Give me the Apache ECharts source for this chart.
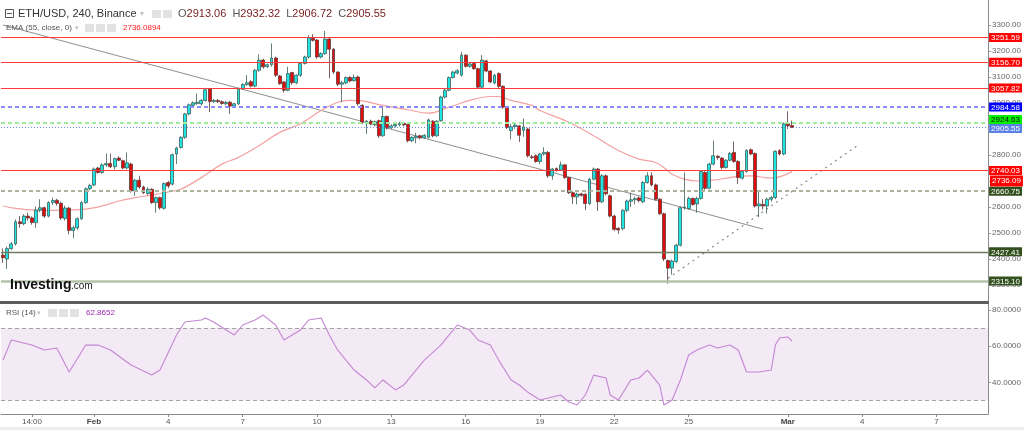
<!DOCTYPE html>
<html><head><meta charset="utf-8">
<script src="https://cdn.jsdelivr.net/npm/echarts@6/dist/echarts.min.js"></script>
<style>html,body{margin:0;padding:0;background:#fff}#c{width:1024px;height:430px}</style>
</head><body><div id="c"></div>
<script>
// ---------- DATA ----------
const barOpen = [2415,2400,2440,2458,2543,2536,2565,2558,2540,2588,2597,2565,2617,2626,2614,2556,2596,2510,2520,2555,
2617,2670,2685,2750,2733,2762,2767,2755,2788,2778,2750,2765,2662,2703,2677,2652,2668,2617,2636,2595,
2694,2688,2804,2829,2868,2958,2991,2998,2997,3010,3055,3006,3010,3005,2997,3003,2988,2997,3055,3071,
3082,3065,3126,3165,3140,3147,3173,3104,3081,3049,3117,3078,3107,3152,3177,3249,3242,3177,3190,3246,
3207,3119,3072,3077,3098,3086,3100,2991,2920,2930,2918,2932,2874,2948,2905,2912,2916,2922,2918,2855,
2866,2874,2866,2868,2930,2874,2932,3023,3049,3098,3115,3107,3184,3141,3152,3132,3061,3162,3123,3077,
3113,3064,2984,2894,2909,2912,2895,2900,2793,2797,2775,2804,2810,2720,2748,2742,2762,2713,2655,2639,
2650,2649,2613,2707,2746,2620,2720,2643,2565,2518,2517,2587,2622,2628,2635,2620,2694,2720,2685,2630,
2574,2394,2365,2390,2453,2597,2594,2633,2612,2633,2733,2672,2765,2795,2788,2752,2780,2810,2775,2711,
2737,2820,2806,2604,2610,2604,2630,2636,2817,2804,2920,2913.06];
const barClose = [2405,2440,2458,2543,2536,2565,2558,2540,2588,2597,2565,2617,2625,2614,2558,2596,2510,2520,2555,2617,
2670,2683,2746,2733,2762,2767,2755,2786,2780,2750,2770,2662,2703,2677,2655,2668,2617,2636,2597,2690,
2681,2801,2827,2868,2958,2993,3001,3003,3010,3051,3006,3010,3005,2998,3002,2988,2997,3055,3071,3078,
3065,3126,3165,3139,3147,3173,3107,3074,3049,3113,3078,3107,3152,3177,3251,3241,3177,3190,3246,3207,
3119,3072,3078,3098,3085,3098,2997,2926,2930,2920,2928,2874,2948,2904,2912,2918,2922,2916,2855,2868,
2872,2866,2876,2935,2874,2930,3023,3049,3098,3119,3124,3184,3141,3150,3132,3061,3165,3123,3081,3107,
3064,2984,2906,2909,2915,2876,2908,2797,2790,2775,2804,2810,2720,2746,2742,2762,2713,2655,2639,2650,
2645,2613,2707,2746,2620,2720,2651,2565,2514,2512,2587,2623,2628,2632,2625,2694,2720,2685,2630,2574,
2400,2365,2392,2453,2597,2600,2633,2610,2633,2737,2672,2765,2797,2790,2752,2780,2806,2775,2713,2737,
2817,2804,2604,2612,2604,2630,2636,2814,2804,2920,2912,2905.55];
const barHigh = [2440,2448,2466,2552,2565,2572,2578,2564,2602,2630,2602,2622,2636,2632,2620,2605,2600,2528,2560,2622,
2675,2690,2752,2755,2768,2806,2806,2790,2795,2782,2810,2770,2708,2720,2682,2676,2672,2640,2640,2695,
2700,2806,2832,2872,2962,2998,3006,3036,3015,3056,3058,3015,3015,3010,3008,3008,3000,3060,3076,3107,
3088,3130,3187,3170,3152,3229,3178,3108,3085,3139,3120,3110,3156,3182,3261,3265,3246,3195,3277,3250,
3212,3122,3085,3102,3104,3110,3105,2995,2935,2936,2932,2936,2984,2952,2918,2922,2928,2926,2922,2872,
2885,2878,2880,2940,2934,2934,3028,3054,3102,3124,3130,3197,3188,3156,3158,3136,3184,3166,3126,3112,
3118,3068,2988,2920,2920,2915,2940,2905,2800,2802,2808,2830,2815,2750,2752,2775,2766,2716,2660,2655,
2655,2652,2712,2752,2750,2726,2725,2648,2570,2522,2592,2628,2655,2640,2640,2700,2734,2734,2690,2634,
2578,2398,2398,2458,2602,2733,2640,2636,2640,2742,2738,2770,2855,2800,2792,2784,2812,2852,2780,2742,
2822,2825,2810,2660,2630,2636,2642,2818,2822,2925,2968,2932.32];
const barLow = [2385,2362,2435,2452,2520,2530,2548,2532,2520,2580,2558,2560,2608,2605,2550,2548,2495,2480,2512,2550,
2612,2665,2680,2728,2728,2755,2750,2745,2776,2745,2745,2655,2643,2670,2650,2645,2612,2578,2590,2590,
2672,2683,2765,2825,2862,2952,2985,2993,2990,3005,2965,3000,3000,2993,2992,2958,2980,2992,3050,3066,
3060,3060,3120,3132,3135,3140,3100,3070,3040,3045,3070,3072,3100,3148,3172,3236,3170,3172,3185,3095,
3112,3065,3003,3072,3080,3082,2990,2920,2881,2914,2910,2866,2870,2898,2900,2906,2910,2910,2848,2850,
2845,2860,2862,2864,2868,2870,2928,3018,3045,3094,3110,3102,3136,3136,3128,3055,3056,3118,3076,3072,
3058,2978,2900,2860,2900,2850,2870,2790,2785,2770,2765,2798,2712,2705,2736,2738,2708,2650,2612,2610,
2640,2588,2608,2702,2585,2615,2645,2560,2508,2497,2510,2580,2600,2610,2618,2615,2690,2680,2625,2570,
2392,2305,2340,2385,2448,2590,2590,2605,2578,2628,2666,2668,2760,2782,2745,2748,2775,2770,2689,2706,
2732,2800,2598,2561,2590,2575,2620,2630,2798,2798,2900,2905.55];

// EMA(55) read at sampled bars: [barIndex, value]
const emaPoints = [[0,2604],[3,2595],[9,2587],[19,2591],[24,2604],[28,2623],[32,2636],[36,2646],[40,2658],[43,2668],
[48,2713],[53,2765],[57,2791],[62,2836],[67,2887],[72,2920],[77,2971],[81,3003],[84,3010],[87,3008],[91,2994],
[98,2974],[103,2961],[108,2984],[113,3010],[118,3025],[120,3025],[123,3010],[128,2991],[130,2971],[137,2926],
[143,2874],[149,2817],[154,2784],[158,2771],[161,2739],[162,2726],[165,2707],[168,2700],[172,2703],[177,2716],
[181,2720],[186,2711],[191,2736.09]];

// RSI(14) read at sampled bars: [barIndex, value]
const rsiPoints = [[0,52.3],[2,63.4],[4,62.3],[7,60.6],[10,57.9],[13,59],[16,45.7],[20,60.6],[23,60.6],[26,57.9],
[31,49.6],[36,44],[38,46.8],[42,66.2],[44,73.4],[48,74.5],[49,75.6],[51,73.4],[54,68.9],[56,66.2],[58,71.7],
[61,74.5],[63,77.2],[66,71.7],[68,63.4],[72,68.9],[74,74.5],[77,75.6],[79,66.2],[81,57.9],[85,46.8],[88,41.3],
[90,36.9],[92,41.3],[95,35.8],[97,38.5],[100,46.8],[102,52.3],[106,60.6],[108,66.2],[110,71.7],[113,68.9],
[115,63.4],[118,60.6],[120,52.3],[123,41.3],[125,38.5],[127,34.6],[130,30.2],[132,31.3],[135,33],[137,29.1],
[139,27.5],[141,33],[143,44],[146,42.4],[147,33],[149,30.2],[152,41.3],[154,42.4],[156,46.8],[159,38.5],
[160,27.5],[162,30.2],[164,41.3],[166,55.1],[168,57.9],[171,60.6],[173,59],[176,60.6],[178,57.9],[180,45.7],
[183,45.7],[186,46.8],[187,60.6],[188,64.5],[190,65.1],[191,62.8652]];

const levelValues = [3251.59, 3156.70, 3057.82, 2984.58, 2924.63, 2905.55, 2740.03, 2660.75, 2427.41, 2315.10];
const emaLast = 2736.09;
const emaHeader = 2736.0894;
const rsiLast = 62.8652;
const ohlcHeader = {O:'2913.06', H:'2932.32', L:'2906.72', C:'2905.55'};
const downTrend = [[0, 3300], [184, 2515]];
const upTrend = [[161, 2326], [207, 2838]];
const priceTicks = [2300,2400,2500,2600,2700,2800,2900,3000,3100,3200,3300];
const rsiTicks = [40,60,80];
const tickLabels = [['2022-01-29 14:00','14:00'],['2022-02-01 02:00','Feb'],['2022-02-04 02:00','4'],['2022-02-07 02:00','7'],
['2022-02-10 02:00','10'],['2022-02-13 02:00','13'],['2022-02-16 02:00','16'],['2022-02-19 02:00','19'],
['2022-02-22 02:00','22'],['2022-02-25 02:00','25'],['2022-03-01 02:00','Mar'],['2022-03-04 02:00','4'],['2022-03-07 02:00','7']];

// ---------- STYLES ----------
const levelStyles = [
  {line:{color:'#ff3b3b',width:1,type:'solid'}, bg:'#ff0000', fg:'#fff', shift:0},
  {line:{color:'#ff3b3b',width:1,type:'solid'}, bg:'#ff0000', fg:'#fff', shift:0},
  {line:{color:'#ff3b3b',width:1,type:'solid'}, bg:'#ff0000', fg:'#fff', shift:0},
  {line:{color:'#8c8cff',width:2,type:[4,3]}, bg:'#0000ff', fg:'#fff', shift:0},
  {line:{color:'#9cec9c',width:2,type:[4,3]}, bg:'#00f000', fg:'#111', shift:-3},
  {line:{color:'#6a8de8',width:1,type:[1,2]}, bg:'#5b80e6', fg:'#fff', shift:1},
  {line:{color:'#ff3b3b',width:1,type:'solid'}, bg:'#ff0000', fg:'#fff', shift:0},
  {line:{color:'#a9b49c',width:2,type:[4,3]}, bg:'#33501f', fg:'#fff', shift:0},
  {line:{color:'#6d7b5c',width:1.3,type:'solid'}, bg:'#33501f', fg:'#fff', shift:0},
  {line:{color:'#b6c2aa',width:2.5,type:'solid'}, bg:'#33501f', fg:'#fff', shift:0}
];
const FONT = 'Liberation Sans';
const GRID_RIGHT = 35;

// categories: 4h bars
const slotCount = 239;
const cats = [];
const t0 = Date.UTC(2022,0,28,10);
const pad = n => (n<10?'0':'')+n;
for (let i=0;i<slotCount;i++){
  const d = new Date(t0 + i*4*3600*1000);
  cats.push(d.getUTCFullYear()+'-'+pad(d.getUTCMonth()+1)+'-'+pad(d.getUTCDate())+' '+pad(d.getUTCHours())+':00');
}
const tickMap = {};
tickLabels.forEach(t => tickMap[t[0]] = t[1]);

const candleData = barOpen.map((o,i)=>[o, barClose[i], barLow[i], barHigh[i]]);

function boxLabel(bg, fg, text, shift){
  const box = {backgroundColor:bg,color:fg,fontSize:8,fontFamily:FONT,padding:[1,2,0,2],lineHeight:10};
  const s = shift || 0;
  let fmt;
  if (s > 0) fmt = () => '{s|}\n{e|'+text+'}';
  else if (s < 0) fmt = () => '{e|'+text+'}\n{s|}';
  else fmt = () => '{e|'+text+'}';
  return {show:true, position:'end', distance:1, formatter: fmt, fontSize:8,
    rich:{e:box, s:{fontSize:1,lineHeight:Math.abs(s)*2,padding:0}}};
}

const levelMarks = levelValues.map((v,i)=>({
  yAxis:v, lineStyle:levelStyles[i].line,
  label: boxLabel(levelStyles[i].bg, levelStyles[i].fg, v.toFixed(2), levelStyles[i].shift)
}));

const chart = echarts.init(document.getElementById('c'), null, {renderer:'canvas'});
const option = {
  animation:false,
  backgroundColor:'#ffffff',
  textStyle:{fontFamily:FONT},
  grid:[{left:1,right:GRID_RIGHT,top:0,height:301},{left:1,right:GRID_RIGHT,top:304,height:110}],
  xAxis:[
    {type:'category',gridIndex:0,data:cats,boundaryGap:true,axisLine:{show:false},axisTick:{show:false},axisLabel:{show:false},splitLine:{show:false}},
    {type:'category',gridIndex:1,data:cats,boundaryGap:true,
      axisLine:{show:true,lineStyle:{color:'#8a8a8a',width:1}},
      axisTick:{show:true,alignWithLabel:true,length:3,interval:(i,v)=>tickMap[v]!==undefined,lineStyle:{color:'#8a8a8a'}},
      axisLabel:{interval:(i,v)=>tickMap[v]!==undefined,
        formatter:v=>{const t=tickMap[v]; return (t==='Feb'||t==='Mar')?'{m|'+t+'}':t;},
        fontSize:8,color:'#555',margin:4,fontFamily:FONT,
        rich:{m:{fontWeight:'bold',fontSize:8,color:'#444',fontFamily:FONT}}},
      splitLine:{show:false}}
  ],
  yAxis:[
    {type:'value',gridIndex:0,position:'right',min:2238.46,max:3396.15,
      axisLine:{show:true,lineStyle:{color:'#8a8a8a'}},
      axisTick:{show:true,length:3,lineStyle:{color:'#999'},customValues:priceTicks},
      axisLabel:{customValues:priceTicks,formatter:v=>v.toFixed(2),fontSize:8,color:'#666',margin:4,fontFamily:FONT},
      splitLine:{show:false}},
    {type:'value',gridIndex:1,position:'right',min:22.48,max:83.32,
      axisLine:{show:true,lineStyle:{color:'#8a8a8a'}},
      axisTick:{show:true,length:3,lineStyle:{color:'#999'},customValues:rsiTicks},
      axisLabel:{customValues:rsiTicks,formatter:v=>v.toFixed(4),fontSize:8,color:'#666',margin:4,fontFamily:FONT},
      splitLine:{show:false}}
  ],
  series:[
    {type:'line',name:'down',xAxisIndex:0,yAxisIndex:0,data:downTrend,symbol:'none',z:1,
      lineStyle:{color:'#8f8f8f',width:1},
      markLine:{symbol:'none',silent:true,animation:false,data:levelMarks}},
    {type:'line',name:'up',xAxisIndex:0,yAxisIndex:0,data:upTrend,symbol:'none',z:1,
      lineStyle:{color:'#8a8a8a',width:1.2,type:[2,4]}},
    {type:'line',name:'EMA',xAxisIndex:0,yAxisIndex:0,data:emaPoints,symbol:'none',smooth:0.4,z:2,
      lineStyle:{color:'#f5a0a0',width:1.2}},
    {type:'candlestick',name:'ETH',xAxisIndex:0,yAxisIndex:0,data:candleData,barWidth:3.4,z:3,
      itemStyle:{color:'#22e3e3',color0:'#e60b0b',borderColor:'#3c5f57',borderColor0:'#5a3b3b',borderWidth:0.8}},
    {type:'line',name:'RSI',xAxisIndex:1,yAxisIndex:1,data:rsiPoints,symbol:'none',z:3,
      lineStyle:{color:'#c486d2',width:1.1},
      markArea:{silent:true,itemStyle:{color:'rgba(150,60,170,0.11)'},data:[[{yAxis:30},{yAxis:70}]]},
      markLine:{symbol:'none',silent:true,animation:false,data:[
        {yAxis:70,lineStyle:{color:'#a3a3a3',width:1,type:[4,3]},label:{show:false}},
        {yAxis:30,lineStyle:{color:'#a3a3a3',width:1,type:[4,3]},label:{show:false}},
        {yAxis:rsiLast,lineStyle:{opacity:0},label:boxLabel('#9a1aa8','#fff',rsiLast.toFixed(4),0)}
      ]}}
  ],
  graphic:[
    {type:'rect',shape:{x:0,y:301,width:989,height:3},style:{fill:'#5c5c5c'},z:10},
    {type:'rect',shape:{x:0,y:427,width:1024,height:3},style:{fill:'#ececec'},z:10},
    {type:'rect',shape:{x:5.5,y:9.5,width:8,height:8},style:{fill:'none',stroke:'#555',lineWidth:1},z:10},
    {type:'line',shape:{x1:7,y1:13.5,x2:12,y2:13.5},style:{stroke:'#555',lineWidth:1},z:10},
    {type:'text',x:18,y:14,style:{text:'ETH/USD, 240, Binance',fill:'#333',font:'11px "Liberation Sans"',verticalAlign:'middle'},z:10},
    {type:'text',x:140,y:14,style:{text:'▾',fill:'#c0c0c0',font:'8px "DejaVu Sans"',verticalAlign:'middle'},z:10},
    {type:'rect',shape:{x:152,y:10,width:9,height:8},style:{fill:'#e2e2e2'},z:10},
    {type:'rect',shape:{x:163,y:10,width:9,height:8},style:{fill:'#e2e2e2'},z:10},
    {type:'text',x:178,y:14,style:{
      text:'{l|O}{v|'+ohlcHeader.O+'}  {l|H}{v|'+ohlcHeader.H+'}  {l|L}{v|'+ohlcHeader.L+'}  {l|C}{v|'+ohlcHeader.C+'}',
      verticalAlign:'middle',font:'11px "Liberation Sans"',
      rich:{l:{fill:'#555',font:'11px "Liberation Sans"'},v:{fill:'#7a2222',font:'11px "Liberation Sans"'}}},z:10},
    {type:'text',x:6,y:28,style:{text:'EMA (55, close, 0)',fill:'#555',font:'8px "Liberation Sans"',verticalAlign:'middle'},z:10},
    {type:'text',x:75,y:28,style:{text:'▾',fill:'#c0c0c0',font:'7px "DejaVu Sans"',verticalAlign:'middle'},z:10},
    {type:'rect',shape:{x:85,y:24,width:9,height:8},style:{fill:'#e2e2e2'},z:10},
    {type:'rect',shape:{x:96,y:24,width:9,height:8},style:{fill:'#e2e2e2'},z:10},
    {type:'rect',shape:{x:107,y:24,width:9,height:8},style:{fill:'#e2e2e2'},z:10},
    {type:'text',x:123,y:28,style:{text:emaHeader.toFixed(4),fill:'#ff1a1a',font:'8px "Liberation Sans"',verticalAlign:'middle'},z:10},
    {type:'text',x:10,y:285,style:{text:'Investing',fill:'#111',font:'bold 14px "Liberation Sans"',verticalAlign:'middle'},z:10},
    {type:'text',x:71,y:286,style:{text:'.com',fill:'#222',font:'10px "Liberation Sans"',verticalAlign:'middle'},z:10},
    {type:'text',x:6,y:313,style:{text:'RSI (14)',fill:'#555',font:'8px "Liberation Sans"',verticalAlign:'middle'},z:10},
    {type:'text',x:37,y:313,style:{text:'▾',fill:'#c0c0c0',font:'7px "DejaVu Sans"',verticalAlign:'middle'},z:10},
    {type:'rect',shape:{x:48,y:309,width:9,height:8},style:{fill:'#e2e2e2'},z:10},
    {type:'rect',shape:{x:59,y:309,width:9,height:8},style:{fill:'#e2e2e2'},z:10},
    {type:'rect',shape:{x:70,y:309,width:9,height:8},style:{fill:'#e2e2e2'},z:10},
    {type:'text',x:86,y:313,style:{text:rsiLast.toFixed(4),fill:'#9c27b0',font:'8px "Liberation Sans"',verticalAlign:'middle'},z:10}
  ]
};
chart.setOption(option);

// EMA last-value box on the price scale, placed through the axis scale (pushed below the 2740.03 box)
const emaY = chart.convertToPixel({yAxisIndex:0}, emaLast);
const lblX = chart.getWidth() - GRID_RIGHT + 1;
chart.setOption({graphic:[{id:'emaLbl',type:'text',x:lblX,y:emaY+9.5,z:1,
  style:{text:emaLast.toFixed(2),fill:'#fff',backgroundColor:'#ff0000',padding:[1,2,0,2],
    font:'8px "Liberation Sans"',verticalAlign:'middle',lineHeight:10}}]});
</script></body></html>
